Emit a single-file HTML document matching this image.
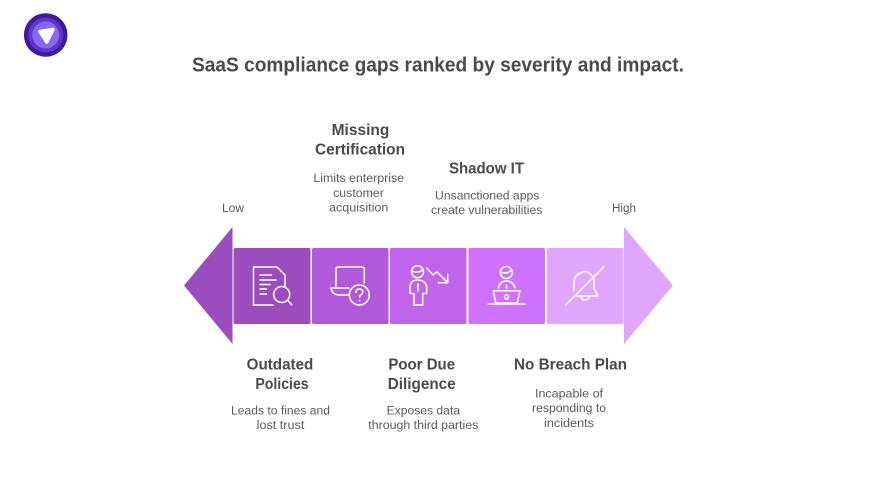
<!DOCTYPE html>
<html lang="en">
<head>
<meta charset="utf-8">
<title>SaaS compliance gaps</title>
<style>
html,body{margin:0;padding:0;background:#fff;width:876px;height:493px;overflow:hidden}
svg{display:block}
text{font-family:"Liberation Sans",sans-serif;text-anchor:middle}
.h{font-size:15.5px;font-weight:700;fill:#4a4a4a}
.s{font-size:12.2px;fill:#5a5a5a}
.i{fill:none;stroke:#fff;stroke-width:1.5;stroke-linecap:round;stroke-linejoin:round}
</style>
</head>
<body>
<svg width="876" height="493" viewBox="0 0 876 493">
<rect width="876" height="493" fill="#fff"/>
<g>
<circle cx="45.700" cy="35" r="21.800" fill="#3f1a9b"/>
<circle cx="45.700" cy="35" r="17.500" fill="#5f35cc"/>
<circle cx="45.700" cy="35" r="13.500" fill="#8a68f2"/>
<polygon points="40,31.500 53,29.500 46.800,42" fill="#fff" stroke="#fff" stroke-width="3.500" stroke-linejoin="round"/>
</g>
<text x="438" y="71.500" font-size="20" font-weight="700" fill="#4a4a4a" textLength="492" lengthAdjust="spacingAndGlyphs">SaaS compliance gaps ranked by severity and impact.</text>

<polygon points="184,285.500 232.500,227 232.500,344" fill="#9b4dbd"/>
<polygon points="624,227 673,285.500 624,344" fill="#e0a6fe"/>
<rect x="233.500" y="248" width="77" height="76" rx="1.500" fill="#9b4dbd"/>
<rect x="312" y="248" width="76.500" height="76" rx="1.500" fill="#b159da"/>
<rect x="390" y="248" width="76.500" height="76" rx="1.500" fill="#c064ec"/>
<rect x="468.500" y="248" width="76.500" height="76" rx="1.500" fill="#cf72ff"/>
<rect x="547" y="248" width="76.500" height="76" rx="1.500" fill="#e0a6fe"/>

<g class="i">
<path d="M273 305H253.500V267H277L285 275V287"/>
<path d="M260 275H271.500M260 280H276M260 284.500H270M260 289H266.500M260 294H266.500"/>
<circle cx="281.700" cy="294.500" r="8"/>
<path d="M287.500 300L291.700 304.700"/>
</g>
<g class="i">
<path d="M336 286.500V269Q336 267 338 267H362Q364.300 267 364.300 269V283"/>
<path d="M331 288H349"/>
<path d="M331 288Q332 295 340 295H348"/>
<circle cx="359.300" cy="295" r="10"/>
<path d="M355.800 292.500Q356 289 359.300 289Q362.800 289 362.800 292Q362.800 294 359.800 295.500V297"/>
<path d="M359.600 300.500V300.800"/>
</g>
<g class="i">
<circle cx="417.500" cy="271.700" r="6"/>
<path d="M411.800 271Q417.500 274 423 269.500"/>
<path d="M414 305V293.500H410V287Q410.500 280 417.500 280Q425.500 280 426.700 287V293.500H422.700V305Z"/>
<path d="M418 284V291"/>
<path d="M426.700 268L433 275L436.700 271.700L446.700 281.700"/>
<path d="M447.700 274.300V282.700H438.300"/>
</g>
<g class="i">
<circle cx="506.300" cy="272.500" r="6"/>
<path d="M500.500 272Q506 275 512 270"/>
<path d="M498.500 288Q500 281 506.500 281Q513 281 515 288"/>
<path d="M506.500 285V288"/>
<path d="M493.300 290.700H520L517.300 303H495.700Z"/>
<circle cx="506.500" cy="297" r="2"/>
<path d="M488.300 304H525"/>
</g>
<g class="i">
<path d="M574 291V283Q574 275 581 273Q582 271.500 585 271.500Q588 271.500 589 273Q593 275 594 280V288L598 296H576"/>
<path d="M581 297Q582 300 585 300Q588 300 589 297"/>
<path d="M565.700 305L604 266.700"/>
</g>

<text x="233" y="212" class="s" textLength="22" lengthAdjust="spacingAndGlyphs">Low</text>
<text x="624" y="212" class="s" textLength="24" lengthAdjust="spacingAndGlyphs">High</text>

<g>
<text x="360.500" y="134.800" class="h" textLength="57.700" lengthAdjust="spacingAndGlyphs">Missing</text>
<text x="360" y="154.300" class="h" textLength="90" lengthAdjust="spacingAndGlyphs">Certification</text>
<text x="358.700" y="182" class="s" textLength="90.700" lengthAdjust="spacingAndGlyphs">Limits enterprise</text>
<text x="358.500" y="197" class="s" textLength="50.700" lengthAdjust="spacingAndGlyphs">customer</text>
<text x="358.700" y="211.500" class="s" textLength="59.300" lengthAdjust="spacingAndGlyphs">acquisition</text>
</g>
<g>
<text x="486.500" y="173.600" class="h" textLength="75" lengthAdjust="spacingAndGlyphs">Shadow IT</text>
<text x="487.200" y="199.300" class="s" textLength="104.300" lengthAdjust="spacingAndGlyphs">Unsanctioned apps</text>
<text x="486.700" y="213.800" class="s" textLength="111.300" lengthAdjust="spacingAndGlyphs">create vulnerabilities</text>
</g>
<g>
<text x="280" y="369.500" class="h" textLength="66.700" lengthAdjust="spacingAndGlyphs">Outdated</text>
<text x="282" y="388.800" class="h" textLength="53.300" lengthAdjust="spacingAndGlyphs">Policies</text>
<text x="280.500" y="414.500" class="s" textLength="99" lengthAdjust="spacingAndGlyphs">Leads to fines and</text>
<text x="280.500" y="429" class="s" textLength="47.700" lengthAdjust="spacingAndGlyphs">lost trust</text>
</g>
<g>
<text x="421.700" y="369.500" class="h" textLength="66.700" lengthAdjust="spacingAndGlyphs">Poor Due</text>
<text x="421.700" y="388.800" class="h" textLength="68" lengthAdjust="spacingAndGlyphs">Diligence</text>
<text x="423.300" y="414.500" class="s" textLength="73.300" lengthAdjust="spacingAndGlyphs">Exposes data</text>
<text x="423.300" y="429" class="s" textLength="110" lengthAdjust="spacingAndGlyphs">through third parties</text>
</g>
<g>
<text x="570.500" y="369.500" class="h" textLength="113" lengthAdjust="spacingAndGlyphs">No Breach Plan</text>
<text x="569" y="397.500" class="s" textLength="68" lengthAdjust="spacingAndGlyphs">Incapable of</text>
<text x="569" y="412" class="s" textLength="74" lengthAdjust="spacingAndGlyphs">responding to</text>
<text x="569" y="427" class="s" textLength="50" lengthAdjust="spacingAndGlyphs">incidents</text>
</g>
</svg>
</body>
</html>
